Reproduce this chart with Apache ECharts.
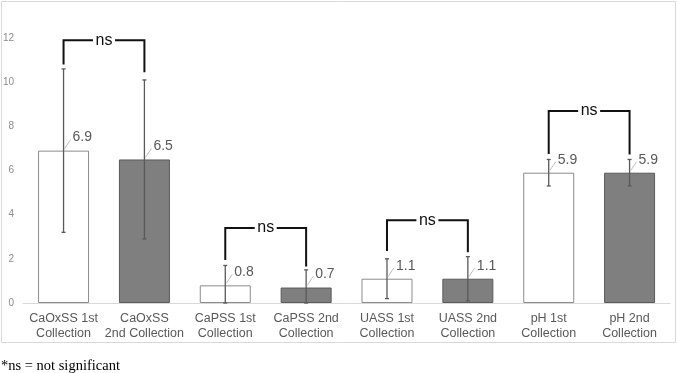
<!DOCTYPE html>
<html>
<head>
<meta charset="utf-8">
<script src="https://cdn.jsdelivr.net/npm/echarts@6/dist/echarts.min.js"></script>
<style>
html,body{margin:0;padding:0;background:#fff;}
#chart{width:677px;height:373px;}
</style>
</head>
<body>
<div id="chart"></div>
<script>
const categories = [
  'CaOxSS 1st\nCollection', 'CaOxSS\n2nd Collection',
  'CaPSS 1st\nCollection', 'CaPSS 2nd\nCollection',
  'UASS 1st\nCollection', 'UASS 2nd\nCollection',
  'pH 1st\nCollection', 'pH 2nd\nCollection'
]
const means = [6.9, 6.5, 0.8, 0.7, 1.1, 1.1, 5.9, 5.9]
const errors = [3.7, 3.6, 0.9, 0.8, 0.9, 1.0, 0.6, 0.6]
const yTicks = [0, 2, 4, 6, 8, 10, 12]

// significance brackets: left index, right index, top, left leg end, right leg end
const bracketLeft = [0, 2, 4, 6]
const bracketRight = [1, 3, 5, 7]
const bracketTop = [11.9, 3.4, 3.75, 8.7]
const bracketLegLeft = [10.8, 1.95, 2.35, 6.75]
const bracketLegRight = [10.45, 1.65, 2.3, 6.72]
const bracketText = ['ns', 'ns', 'ns', 'ns']

const chart = echarts.init(document.getElementById('chart'))

const barData = means.map((v, i) => ({
  value: v,
  itemStyle: i % 2 === 0
    ? { color: '#ffffff', borderColor: '#8c8c8c', borderWidth: 1 }
    : { color: '#7f7f7f', borderColor: '#5a5a5a', borderWidth: 1 }
}))

const errData = means.map((v, i) => [i, v, errors[i]])
const bracketData = bracketLeft.map((l, i) =>
  [l, bracketRight[i], bracketTop[i], bracketLegLeft[i], bracketLegRight[i], bracketText[i]])

function renderErr(params, api) {
  const i = api.value(0), v = api.value(1), e = api.value(2)
  const c = api.coord([i, v])
  const hi = api.coord([i, v + e])
  const lo = api.coord([i, Math.max(0, v - e)])
  const cx = c[0]
  const st = { stroke: '#595959', lineWidth: 1.3 }
  return {
    type: 'group',
    children: [
      { type: 'line', shape: { x1: cx, y1: hi[1], x2: cx, y2: lo[1] }, style: st },
      { type: 'line', shape: { x1: cx - 2, y1: hi[1], x2: cx + 2, y2: hi[1] }, style: st },
      { type: 'line', shape: { x1: cx - 2, y1: lo[1], x2: cx + 2, y2: lo[1] }, style: st },
      { type: 'line', shape: { x1: cx + 1, y1: c[1] - 2, x2: cx + 7, y2: c[1] - 11 },
        style: { stroke: '#bfbfbf', lineWidth: 1 } },
      { type: 'text', x: cx + 9, y: c[1] - 13,
        style: { text: v.toFixed(1), fill: '#595959', fontSize: 14,
          fontFamily: 'Liberation Sans, Arial', align: 'left', verticalAlign: 'middle' } }
    ]
  }
}

function renderBracket(params, api) {
  const l = api.value(0), r = api.value(1)
  const top = api.coord([l, api.value(2)])
  const a = api.coord([l, api.value(3)])
  const b = api.coord([r, api.value(4)])
  const x1 = top[0], x2 = b[0], y = top[1]
  const mid = (x1 + x2) / 2
  const gap = 11
  const st = { stroke: '#111', lineWidth: 2, fill: null }
  return {
    type: 'group',
    children: [
      { type: 'polyline', shape: { points: [[x1, a[1]], [x1, y], [mid - gap, y]] }, style: st },
      { type: 'polyline', shape: { points: [[mid + gap, y], [x2, y], [x2, b[1]]] }, style: st },
      { type: 'text', x: mid, y: y,
        style: { text: 'ns', fill: '#111', fontSize: 16, fontFamily: 'Liberation Sans, Arial',
          align: 'center', verticalAlign: 'middle' } }
    ]
  }
}

const option = {
  animation: false,
  backgroundColor: '#fff',
  grid: { left: 23, right: 7, top: 38, bottom: 70 },
  xAxis: {
    type: 'category',
    data: categories,
    axisTick: { show: false },
    axisLine: { lineStyle: { color: '#d9d9d9', width: 1 } },
    axisLabel: {
      interval: 0, margin: 8, color: '#595959', fontSize: 12.5, lineHeight: 15,
      fontFamily: 'Liberation Sans, Arial'
    }
  },
  yAxis: {
    type: 'value',
    min: yTicks[0],
    max: yTicks[yTicks.length - 1],
    interval: 2,
    splitLine: { show: false },
    axisLine: { show: false },
    axisTick: { show: false },
    axisLabel: { color: '#8c8c8c', fontSize: 10, margin: 9, fontFamily: 'Liberation Sans, Arial' }
  },
  graphic: [
    { type: 'rect', shape: { x: 1.5, y: 1.5, width: 674, height: 341 },
      style: { fill: null, stroke: '#d9d9d9', lineWidth: 1 }, z: -1 },
    { type: 'text', left: 1, top: 359,
      style: { text: '*ns = not significant', fill: '#000', fontSize: 14.5,
        fontFamily: 'Liberation Serif, Times New Roman' } }
  ],
  series: [
    { type: 'bar', data: barData, barWidth: 51 },
    { type: 'custom', data: errData, renderItem: renderErr, z: 5 },
    { type: 'custom', data: bracketData, renderItem: renderBracket, z: 6 }
  ]
}

chart.setOption(option)
</script>
</body>
</html>
